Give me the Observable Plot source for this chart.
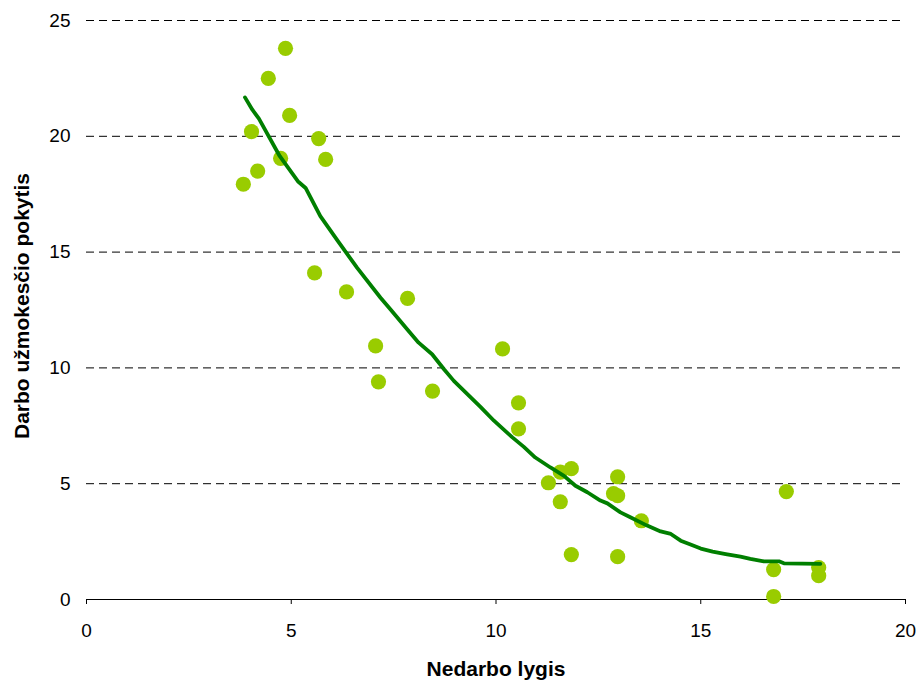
<!DOCTYPE html>
<html>
<head>
<meta charset="utf-8">
<script src="https://cdn.jsdelivr.net/npm/d3@7"></script>
<script src="https://cdn.jsdelivr.net/npm/@observablehq/plot@0.6"></script>
<style>
  html, body { margin: 0; padding: 0; background: #fff; }
</style>
</head>
<body>
<div id="chart"></div>
<script>
// Scatter points: unemployment rate (x) vs wage change (y)
const pointX = [3.83, 4.03, 4.18, 4.44, 4.74, 4.86, 4.96, 5.67, 5.84, 5.57, 6.35, 7.06, 7.13, 7.84, 8.45,
  10.16, 10.55, 10.55, 11.28, 11.57, 11.84, 11.57, 11.84, 12.97, 12.87, 12.97, 12.97, 13.55,
  17.09, 16.78, 16.78, 17.88, 17.88];
const pointY = [17.93, 20.2, 18.5, 22.5, 19.05, 23.8, 20.9, 19.9, 19.0, 14.1, 13.28, 10.95, 9.4, 13.0, 9.0,
  10.82, 8.49, 7.37, 5.04, 5.5, 5.65, 4.22, 1.94, 5.3, 4.57, 4.48, 1.85, 3.4,
  4.66, 1.29, 0.13, 1.38, 1.03];

// Trend line as drawn in the reference
const trendX = [3.87, 4.05, 4.21, 4.72, 5.16, 5.35, 5.71, 6.14, 6.61, 7.18, 7.42, 7.83, 8.11, 8.44, 8.73, 8.97,
  9.62, 9.95, 10.11, 10.40, 10.68, 10.96, 11.33, 11.66, 11.94, 12.23, 12.55, 12.72, 13.04, 13.28, 13.69,
  14.02, 14.27, 14.51, 14.75, 15.0, 15.29, 15.61, 15.97, 16.21, 16.54, 16.91, 17.03, 17.92];
const trendY = [21.68, 21.15, 20.76, 19.14, 18.06, 17.77, 16.55, 15.47, 14.32, 13.03, 12.53, 11.67, 11.09, 10.59, 9.94, 9.44,
  8.32, 7.72, 7.46, 7.00, 6.59, 6.13, 5.70, 5.34, 4.91, 4.63, 4.27, 4.15, 3.76, 3.55, 3.19,
  2.94, 2.83, 2.54, 2.37, 2.2, 2.07, 1.96, 1.85, 1.75, 1.65, 1.65, 1.56, 1.54];

const xTicks = [0, 5, 10, 15, 20];
const yTicks = [0, 5, 10, 15, 20, 25];
const xTitle = "Nedarbo lygis";
const yTitle = "Darbo užmokesčio pokytis";

const points = pointX.map((x, i) => ({x, y: pointY[i]}));
const trend = trendX.map((x, i) => ({x, y: trendY[i]}));

const chart = Plot.plot({
  width: 917,
  height: 680,
  marginLeft: 86,
  marginRight: 12,
  marginTop: 20,
  marginBottom: 81,
  style: {fontFamily: "'Liberation Sans', Arial, sans-serif", fontSize: "19px", color: "#000", background: "#fff"},
  x: {domain: [0, 20]},
  y: {domain: [0, 25]},
  marks: [
    Plot.ruleY(yTicks.filter(d => d > 0), {stroke: "#000", strokeWidth: 1, strokeDasharray: "8,5"}),
    Plot.ruleY([0], {stroke: "#000", strokeWidth: 1}),
    Plot.axisX(xTicks, {tickSize: 5, tickPadding: 19, label: null, stroke: "#000", fontSize: 19}),
    Plot.axisY(yTicks, {tickSize: 0, tickPadding: 16, label: null, fontSize: 19}),
    Plot.dot(points, {x: "x", y: "y", r: 7.6, fill: "#99cc00", stroke: "none"}),
    Plot.line(trend, {x: "x", y: "y", stroke: "#007f00", strokeWidth: 3.8, curve: "linear"}),
    Plot.text([xTitle], {frameAnchor: "bottom", dy: 70, lineAnchor: "middle", textAnchor: "middle", fontWeight: "bold", fontSize: 21, fill: "#000"}),
    Plot.text([yTitle], {frameAnchor: "left", dx: -64, dy: -4, rotate: -90, textAnchor: "middle", lineAnchor: "middle", fontWeight: "bold", fontSize: 21, fill: "#000"})
  ]
});
document.getElementById("chart").appendChild(chart);
</script>
</body>
</html>
